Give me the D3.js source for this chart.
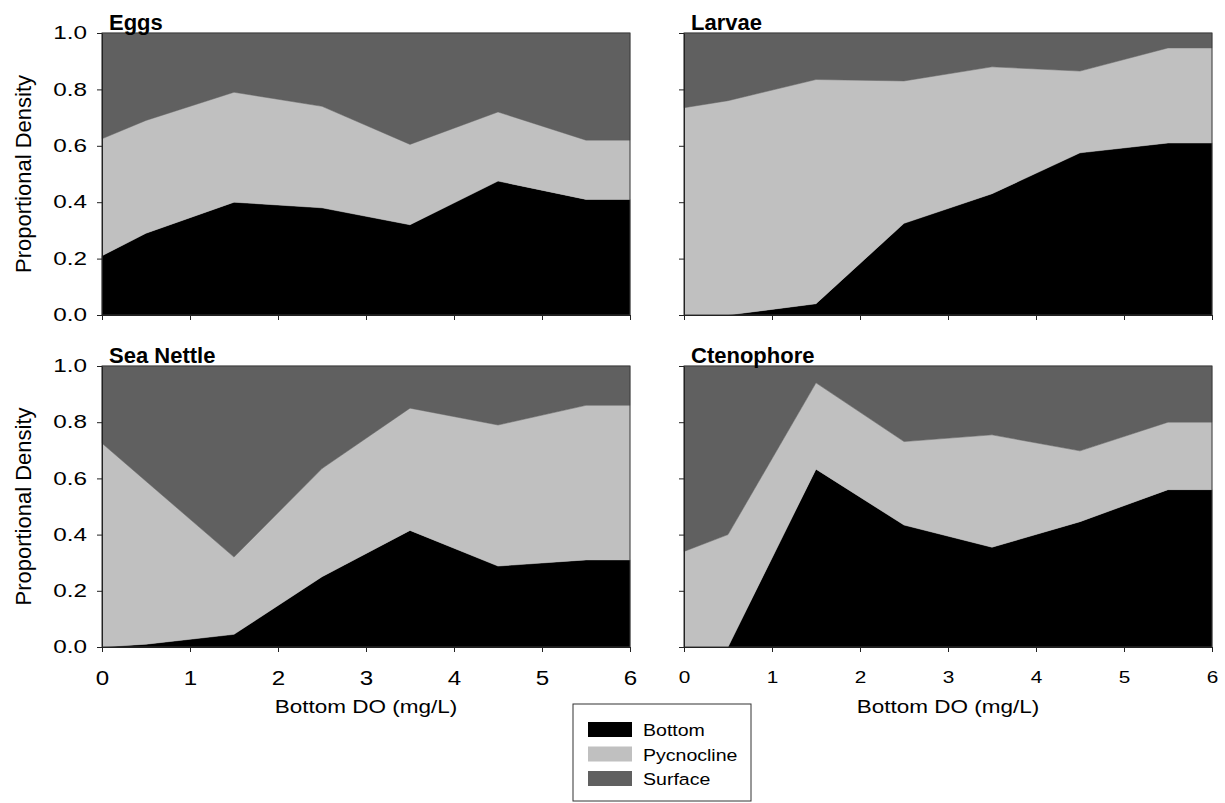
<!DOCTYPE html>
<html>
<head>
<meta charset="utf-8">
<script src="https://cdn.jsdelivr.net/npm/d3@7"></script>
<style>
  html, body { margin: 0; padding: 0; background: #ffffff; }
  svg { display: block; font-family: "Liberation Sans", Arial, Helvetica, sans-serif; }
</style>
</head>
<body>
<svg id="chart" width="1225" height="803"></svg>
<script>
// ---- Data (proportions of density in each layer) ----
const xValues = [0, 0.5, 1.5, 2.5, 3.5, 4.5, 5.5, 6];
const layerNames = ["Bottom", "Pycnocline", "Surface"];
const layerColors = ["#000000", "#c0c0c0", "#606060"];
const xTicks = [0, 1, 2, 3, 4, 5, 6];
const yTicks = [0, 0.2, 0.4, 0.6, 0.8, 1.0];
const panelTitles = ["Eggs", "Larvae", "Sea Nettle", "Ctenophore"];

const eggsBottom      = [0.21, 0.29, 0.40, 0.38, 0.32, 0.475, 0.41, 0.41];
const eggsPycnocline  = [0.415, 0.40, 0.39, 0.36, 0.285, 0.245, 0.21, 0.21];
const eggsSurface     = [0.375, 0.31, 0.21, 0.26, 0.395, 0.28, 0.38, 0.38];

const larvaeBottom     = [0.0, 0.0, 0.04, 0.325, 0.43, 0.575, 0.61, 0.61];
const larvaePycnocline = [0.735, 0.76, 0.795, 0.505, 0.45, 0.29, 0.337, 0.337];
const larvaeSurface    = [0.265, 0.24, 0.165, 0.17, 0.12, 0.135, 0.053, 0.053];

const nettleBottom     = [0.0, 0.01, 0.045, 0.25, 0.415, 0.288, 0.31, 0.31];
const nettlePycnocline = [0.725, 0.58, 0.275, 0.385, 0.435, 0.502, 0.55, 0.55];
const nettleSurface    = [0.275, 0.41, 0.68, 0.365, 0.15, 0.21, 0.14, 0.14];

const ctenoBottom      = [0.0, 0.0, 0.633, 0.434, 0.355, 0.446, 0.56, 0.56];
const ctenoPycnocline  = [0.34, 0.40, 0.307, 0.297, 0.40, 0.252, 0.24, 0.24];
const ctenoSurface     = [0.66, 0.60, 0.06, 0.269, 0.245, 0.302, 0.20, 0.20];

const seriesByPanel = [
  [eggsBottom, eggsPycnocline, eggsSurface],
  [larvaeBottom, larvaePycnocline, larvaeSurface],
  [nettleBottom, nettlePycnocline, nettleSurface],
  [ctenoBottom, ctenoPycnocline, ctenoSurface]
];

// ---- Layout ----
const svg = d3.select("#chart");
const FONT = '"Liberation Sans", Arial, Helvetica, sans-serif';
const panelW = 528;
const panels = [
  { left: 102, top: 33,  h: 282, yLabels: true,  xLabels: false },
  { left: 684, top: 33,  h: 282, yLabels: false, xLabels: false },
  { left: 102, top: 366, h: 281, yLabels: true,  xLabels: true, xSize: 21, xSx: 1.15, xBase: 38 },
  { left: 684, top: 366, h: 281, yLabels: false, xLabels: true, xSize: 16, xSx: 1.3, xBase: 36 }
];

function scaledText(g, str, x, y, size, sx, anchor, weight) {
  return g.append("text")
    .attr("transform", `translate(${x},${y}) scale(${sx},1)`)
    .attr("text-anchor", anchor || "start")
    .attr("font-size", size)
    .attr("font-weight", weight || "normal")
    .attr("fill", "#000")
    .text(str);
}

panels.forEach((p, i) => {
  const g = svg.append("g").attr("transform", `translate(${p.left},${p.top})`);
  const x = d3.scaleLinear().domain([0, 6]).range([0, panelW]);
  const y = d3.scaleLinear().domain([0, 1]).range([p.h, 0]);

  const rows = xValues.map((xv, j) => {
    const r = { x: xv };
    layerNames.forEach((name, k) => { r[name] = seriesByPanel[i][k][j]; });
    return r;
  });
  const stacked = d3.stack().keys(layerNames)(rows);
  const area = d3.area()
    .x(d => x(d.data.x))
    .y0(d => y(Math.min(1, d[0])))
    .y1(d => y(Math.min(1, d[1])));

  g.selectAll("path.layer")
    .data(stacked)
    .join("path")
    .attr("class", "layer")
    .attr("d", (d, k) => k === layerNames.length - 1
      ? d3.area().x(e => x(e.data.x)).y0(e => y(e[0])).y1(() => y(1))(d)
      : area(d))
    .attr("fill", (d, k) => layerColors[k])
    .attr("stroke", (d, k) => layerColors[k])
    .attr("stroke-width", 0.5);

  // Frame
  g.append("rect")
    .attr("x", 0).attr("y", 0).attr("width", panelW).attr("height", p.h)
    .attr("fill", "none").attr("stroke", "#3a3a3a").attr("stroke-width", 1);

  // Y axis
  const yAxis = d3.axisLeft(y).tickValues(yTicks).tickSize(5).tickSizeOuter(0)
    .tickFormat(p.yLabels ? d3.format(".1f") : () => "");
  const ya = g.append("g").call(yAxis);
  ya.select(".domain").attr("stroke", "#222");
  ya.selectAll(".tick line").attr("stroke", "#222");
  if (p.yLabels) {
    const sx = 1.35;
    ya.selectAll(".tick text")
      .attr("font-family", FONT).attr("font-size", 18).attr("fill", "#000")
      .attr("x", -15 / sx)
      .attr("transform", `scale(${sx},1)`);
  }

  // X axis
  const xAxis = d3.axisBottom(x).tickValues(xTicks).tickSize(5).tickSizeOuter(0)
    .tickFormat(p.xLabels ? d3.format("d") : () => "");
  const xa = g.append("g").attr("transform", `translate(0,${p.h})`).call(xAxis);
  xa.select(".domain").attr("stroke", "#222");
  xa.selectAll(".tick line").attr("stroke", "#222");
  if (p.xLabels) {
    xa.selectAll(".tick text")
      .attr("font-family", FONT).attr("font-size", p.xSize).attr("fill", "#000")
      .attr("y", p.xBase).attr("dy", null)
      .attr("transform", `scale(${p.xSx},1)`);
  }

  // Title
  scaledText(g, panelTitles[i], 7, -3.5, 22, 1, "start", "bold");

  // Y axis title
  if (p.yLabels) {
    g.append("text")
      .attr("transform", `translate(${31 - p.left},${p.h / 2}) rotate(-90)`)
      .attr("text-anchor", "middle")
      .attr("font-size", 22)
      .attr("fill", "#000")
      .text("Proportional Density");
  }

  // X axis title (bottom panels)
  if (p.xLabels) {
    scaledText(g, "Bottom DO (mg/L)", panelW / 2, p.h + 66, 18, 1.25, "middle");
  }
});

// ---- Legend ----
const lg = svg.append("g").attr("transform", "translate(573,704)");
lg.append("rect").attr("x", 0).attr("y", 0).attr("width", 178).attr("height", 97)
  .attr("fill", "#fff").attr("stroke", "#333").attr("stroke-width", 1);
layerNames.forEach((name, k) => {
  lg.append("rect")
    .attr("x", 15).attr("y", 18 + k * 24.5)
    .attr("width", 44).attr("height", 15)
    .attr("fill", layerColors[k]);
  scaledText(lg, name, 70, 32 + k * 24.5, 17, 1.15, "start");
});
</script>
</body>
</html>
